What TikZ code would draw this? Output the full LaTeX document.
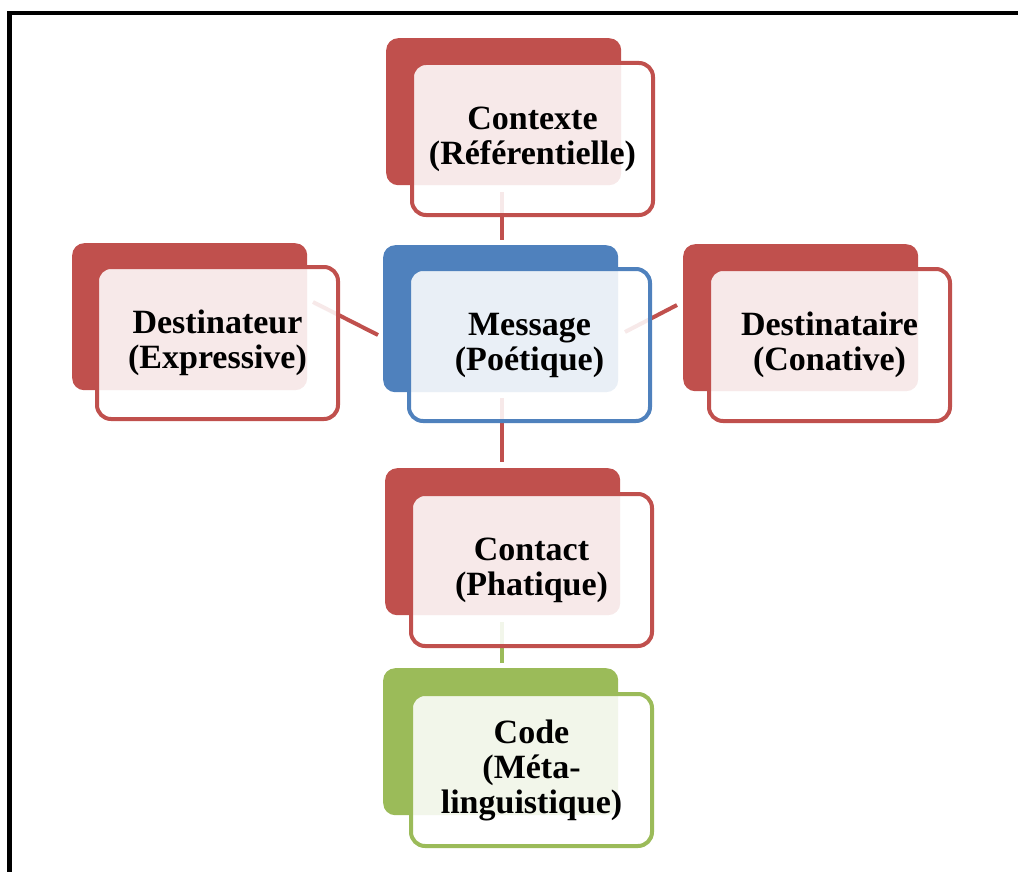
\documentclass[tikz,border=0pt]{standalone}
\usepackage{fontspec}
\setmainfont{Liberation Serif}
\definecolor{cred}{HTML}{C0504D}
\definecolor{cblue}{HTML}{4F81BD}
\definecolor{cgreen}{HTML}{9BBB59}
\begin{document}
\begin{tikzpicture}[x=1pt,y=-1pt,
  backbox/.style={draw=none, fill=#1, rounded corners=12pt, minimum width=235pt, minimum height=147pt, anchor=north west, inner sep=0pt},
  frontbox/.style={draw=#1, line width=4pt, fill=white, fill opacity=0.88, text opacity=1, rounded corners=14pt, minimum width=241pt, minimum height=152pt, anchor=north west, inner sep=0pt, align=center, font=\fontsize{34}{35}\selectfont\bfseries},
  link/.style={draw=#1, line width=4pt}]
\path[use as bounding box] (0,0) rectangle (1018,872);
\clip (0,0) rectangle (1018,872);
\draw[line width=4.3pt] (9.5,12.8) rectangle (1040,900);
% back rectangles
\node[backbox=cred]   (ctxB)  at (386,38)  {};
\node[backbox=cred]   (dstB)  at (72,243)  {};
\node[backbox=cblue]  (msgB)  at (383,245) {};
\node[backbox=cred]   (dtaB)  at (683,244) {};
\node[backbox=cred]   (cntB)  at (385,468) {};
\node[backbox=cgreen] (codB)  at (383,668) {};
% connector end points
\coordinate (l1a) at (502,192); \coordinate (l1b) at (502,240);
\coordinate (l2a) at (502,398); \coordinate (l2b) at (502,462);
\coordinate (l3a) at (502,622); \coordinate (l3b) at (502,663);
\coordinate (l4a) at (313,302); \coordinate (l4b) at (378,335);
\coordinate (l5a) at (625,332); \coordinate (l5b) at (677,305);
\draw[link=cred]   (l1a) -- (l1b);
\draw[link=cred]   (l2a) -- (l2b);
\draw[link=cgreen] (l3a) -- (l3b);
\draw[link=cred]   (l4a) -- (l4b);
\draw[link=cred]   (l5a) -- (l5b);
% front rectangles with text
\node[frontbox=cred]   (ctx) at (410,61)  {Contexte\\(Référentielle)};
\node[frontbox=cred]   (dst) at (95,265)  {Destinateur\\(Expressive)};
\node[frontbox=cblue]  (msg) at (407,267) {Message\\(Poétique)};
\node[frontbox=cred]   (dta) at (707,267) {Destinataire\\(Conative)};
\node[frontbox=cred]   (cnt) at (409,492) {Contact\\(Phatique)};
\node[frontbox=cgreen] (cod) at (409,692) {Code\\(Méta-\\linguistique)};
\end{tikzpicture}
\end{document}
